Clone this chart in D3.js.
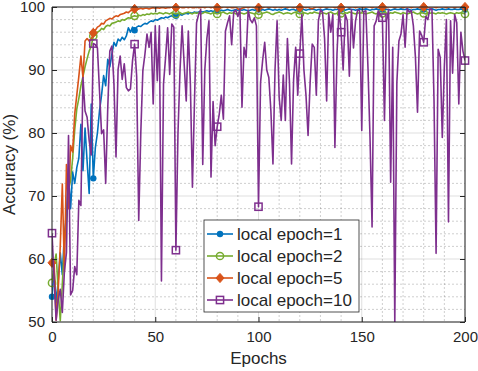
<!DOCTYPE html>
<html>
<head>
<meta charset="utf-8">
<script src="https://cdn.jsdelivr.net/npm/d3@7"></script>
<style>
  body { margin: 0; background: #fff; }
  svg { display: block; font-family: "Liberation Sans", Arial, sans-serif; }
</style>
</head>
<body>
<div id="chart"></div>
<script>
// accuracy per epoch (epoch 0..200)
const acc1 = [
  54.0, 58.2, 53.0, 56.5, 61.0, 57.5, 64.0, 66.9, 73.5, 68.0,
  73.8, 72.0, 74.5, 76.0, 81.4, 74.0, 80.8, 75.5, 70.4, 84.6,
  72.8, 77.7, 80.0, 83.5, 86.0, 89.1, 87.5, 91.7, 90.5, 92.5,
  94.4, 93.8, 94.9, 94.6, 95.2, 94.8, 95.4, 96.7, 96.0, 96.8,
  96.3, 96.8, 97.0, 96.9, 97.2, 97.4, 97.3, 97.6, 97.8, 97.7,
  98.0, 97.9, 98.1, 98.3, 98.2, 98.4, 98.3, 98.5, 98.6, 98.4,
  98.6, 98.7, 98.8, 98.7, 98.9, 99.0, 98.9, 99.1, 99.0, 99.2,
  99.1, 99.2, 99.3, 99.2, 99.3, 99.4, 99.3, 99.4, 99.3, 99.4,
  99.5, 99.4, 99.5, 99.4, 99.5, 99.6, 99.5, 99.4, 99.5, 99.6,
  99.5, 99.6, 99.5, 99.6, 99.5, 99.4, 99.5, 99.6, 99.5, 99.6,
  99.6, 99.5, 99.6, 99.5, 99.6, 99.7, 99.6, 99.5, 99.6, 99.5,
  99.6, 99.5, 99.6, 99.7, 99.6, 99.5, 99.6, 99.6, 99.5, 99.6,
  99.6, 99.7, 99.6, 99.5, 99.6, 99.6, 99.7, 99.6, 99.5, 99.6,
  99.6, 99.5, 99.6, 99.7, 99.6, 99.6, 99.5, 99.6, 99.6, 99.7,
  99.6, 99.6, 99.5, 99.6, 99.7, 99.6, 99.6, 99.5, 99.6, 99.7,
  99.6, 99.6, 99.7, 99.6, 99.5, 99.6, 99.6, 99.7, 99.6, 99.6,
  99.6, 99.7, 99.6, 99.6, 99.5, 99.6, 99.7, 99.6, 99.6, 99.7,
  99.6, 99.6, 99.7, 99.6, 99.5, 99.6, 99.6, 99.7, 99.6, 99.6,
  99.6, 99.7, 99.6, 99.6, 99.7, 99.6, 99.5, 99.6, 99.6, 99.7,
  99.6, 99.6, 99.7, 99.6, 99.6, 99.7, 99.6, 99.6, 99.7, 99.6,
  99.6
];
const acc2 = [
  56.2, 59.0, 60.8, 55.0, 50.2, 56.0, 62.5, 66.0, 71.0, 72.5,
  76.0, 80.5, 83.8, 85.5, 87.5, 89.0, 90.5, 91.8, 93.0, 93.8,
  95.4, 95.5, 96.0, 96.2, 96.6, 96.4, 96.9, 97.1, 97.0, 97.4,
  97.5, 97.6, 97.8, 97.7, 98.0, 97.9, 98.1, 98.3, 98.2, 98.5,
  98.6, 98.5, 98.7, 98.6, 98.8, 98.7, 98.9, 98.8, 99.0, 98.9,
  99.0, 98.9, 99.1, 99.0, 98.9, 99.1, 99.0, 98.9, 99.1, 99.0,
  98.9, 99.0, 99.1, 98.9, 99.0, 99.1, 99.2, 99.0, 98.9, 99.1,
  99.0, 99.1, 98.9, 99.0, 99.2, 99.1, 99.0, 98.9, 99.1, 99.0,
  98.9, 99.0, 99.1, 99.2, 99.0, 98.9, 99.1, 99.0, 99.1, 98.9,
  99.0, 99.1, 99.0, 98.9, 99.0, 99.2, 99.1, 99.0, 98.9, 99.0,
  98.8, 98.9, 99.0, 99.1, 99.2, 99.1, 98.9, 98.8, 99.0, 99.1,
  99.2, 99.1, 98.9, 99.0, 99.1, 99.0, 98.9, 99.1, 99.2, 99.0,
  98.9, 99.0, 99.1, 99.0, 98.9, 99.1, 99.0, 99.2, 99.1, 99.0,
  98.9, 99.1, 99.0, 98.9, 99.1, 99.2, 99.0, 98.9, 99.0, 99.1,
  99.0, 98.9, 99.1, 99.0, 99.2, 99.1, 99.0, 98.9, 99.1, 99.0,
  99.1, 99.0, 98.9, 99.0, 99.1, 99.2, 99.0, 98.9, 99.1, 99.0,
  99.0, 99.1, 99.0, 98.9, 99.1, 99.0, 99.2, 99.1, 99.0, 98.9,
  99.1, 99.0, 98.9, 99.0, 99.1, 99.2, 99.0, 98.9, 99.0, 99.1,
  99.0, 98.9, 99.1, 99.0, 99.1, 99.0, 98.9, 99.1, 99.0, 99.1,
  99.0, 98.9, 99.0, 99.1, 99.0, 98.9, 99.1, 99.0, 99.1, 99.0,
  98.9
];
const acc5 = [
  59.4, 59.6, 50.3, 55.0, 62.0, 71.9, 58.0, 75.0, 68.0, 78.0,
  77.0, 83.0, 86.0, 89.0, 92.2, 88.8, 94.6, 95.0, 94.6, 94.8,
  95.9, 96.3, 96.8, 97.0, 97.4, 97.3, 97.8, 98.0, 98.2, 98.1,
  98.4, 98.6, 98.5, 98.8, 98.9, 99.0, 99.2, 99.1, 99.4, 99.5,
  99.7, 99.6, 99.7, 99.8, 99.7, 99.8, 99.8, 99.7, 99.8, 99.9,
  99.8, 99.9, 99.8, 99.9, 99.9, 99.8, 99.9, 99.9, 100.0, 99.9,
  99.9, 99.9, 100.0, 99.9, 99.9, 100.0, 99.9, 100.0, 99.9, 99.9,
  100.0, 99.9, 99.9, 100.0, 99.9, 100.0, 100.0, 99.9, 100.0, 99.9,
  99.9, 100.0, 99.9, 100.0, 100.0, 99.9, 100.0, 99.9, 99.9, 100.0,
  99.7, 99.6, 99.8, 99.9, 100.0, 99.9, 100.0, 100.0, 99.9, 100.0,
  99.9, 100.0, 99.9, 100.0, 100.0, 99.9, 100.0, 100.0, 99.9, 100.0,
  100.0, 99.9, 100.0, 100.0, 99.9, 100.0, 100.0, 99.9, 100.0, 100.0,
  99.9, 100.0, 100.0, 99.9, 100.0, 99.8, 99.7, 99.9, 100.0, 100.0,
  99.9, 100.0, 100.0, 99.9, 100.0, 100.0, 100.0, 99.9, 100.0, 100.0,
  99.9, 100.0, 100.0, 100.0, 99.9, 100.0, 100.0, 99.9, 100.0, 100.0,
  100.0, 99.9, 100.0, 100.0, 100.0, 99.9, 100.0, 100.0, 99.9, 100.0,
  100.0, 100.0, 99.9, 100.0, 100.0, 100.0, 99.9, 100.0, 100.0, 100.0,
  99.9, 100.0, 100.0, 100.0, 99.9, 100.0, 100.0, 100.0, 99.9, 100.0,
  100.0, 100.0, 99.9, 100.0, 100.0, 100.0, 99.9, 100.0, 100.0, 100.0,
  100.0, 99.9, 100.0, 100.0, 100.0, 99.9, 100.0, 100.0, 100.0, 100.0,
  100.0
];
const acc10 = [
  64.1, 57.0, 50.3, 53.5, 55.2, 51.5, 58.0, 61.0, 79.6, 54.3,
  55.0, 58.8, 57.5, 69.3, 68.5, 88.8, 83.5, 82.5, 78.8, 76.5,
  94.2, 94.0, 93.5, 86.7, 79.9, 80.5, 72.0, 84.0, 93.0, 93.8,
  87.8, 76.2, 90.1, 92.2, 88.5, 91.0, 87.2, 86.7, 87.0, 91.5,
  94.1, 89.0, 66.1, 80.0, 89.9, 92.5, 95.7, 93.6, 96.0, 84.6,
  97.0, 88.3, 97.0, 56.5, 87.8, 92.0, 96.7, 89.3, 97.3, 96.8,
  61.4, 79.9, 90.0, 97.0, 91.0, 85.1, 96.2, 88.0, 71.4, 85.0,
  97.5, 98.8, 99.6, 75.0, 90.0, 95.0, 97.8, 73.0, 85.0, 78.0,
  81.0, 83.0, 86.0, 82.2, 96.2, 97.5, 98.6, 94.0, 99.2, 99.5,
  98.5, 99.7, 84.1, 93.6, 92.0, 99.5, 98.0, 97.5, 98.3, 97.0,
  68.3, 88.0, 91.5, 94.4, 90.0, 88.8, 83.5, 75.1, 90.0, 97.8,
  85.7, 82.0, 89.2, 82.0, 95.0, 88.0, 75.1, 88.5, 93.6, 86.0,
  92.6, 98.8, 90.0, 86.0, 79.6, 88.0, 94.1, 93.6, 86.0, 97.8,
  99.5, 99.2, 95.0, 85.1, 99.0, 96.0, 98.8, 77.7, 92.5, 99.6,
  96.0, 90.0, 98.8, 97.8, 89.0, 99.6, 93.5, 97.8, 99.5, 99.4,
  80.4, 99.3, 99.4, 90.5, 79.3, 65.1, 97.0, 97.8, 99.4, 98.8,
  98.3, 82.0, 97.8, 99.6, 72.2, 93.6, 50.0, 88.0, 94.6, 95.7,
  98.8, 93.6, 99.7, 99.2, 99.4, 97.0, 92.0, 83.3, 96.2, 95.5,
  94.4, 98.5, 98.0, 99.7, 99.6, 85.1, 60.9, 93.3, 92.0, 79.3,
  90.5, 98.0, 65.9, 97.8, 89.5, 98.8, 97.5, 84.6, 96.0, 93.0,
  91.5
];

const seriesNames = ["local epoch=1", "local epoch=2", "local epoch=5", "local epoch=10"];
const xTicks = [0, 50, 100, 150, 200];
const yTicks = [50, 60, 70, 80, 90, 100];
const markerEvery = 20;

const colors = ["#0072BD", "#77AC30", "#D95319", "#7E2F8E"];
const markers = ["dot", "circle", "diamond", "square"];
const series = [acc1, acc2, acc5, acc10];

const margin = {top: 7, right: 13, bottom: 49, left: 52};
const width = 478 - margin.left - margin.right;
const height = 371 - margin.top - margin.bottom;
const axisColor = "#262626";

const svg = d3.select("#chart")
  .append("svg")
    .attr("width", 478)
    .attr("height", 371)
  .append("g")
    .attr("transform", `translate(${margin.left},${margin.top})`);

const x = d3.scaleLinear().domain([0, 200]).range([0, width]);
const y = d3.scaleLinear().domain([50, 100]).range([height, 0]);

// minor grid (dotted), then major grid
const xMinor = d3.range(0, 201, 10).filter(d => !xTicks.includes(d));
const yMinor = d3.range(50, 101, 2).filter(d => !yTicks.includes(d));

const grid = svg.append("g");
grid.selectAll(".xm").data(xMinor).join("line")
  .attr("x1", d => x(d)).attr("x2", d => x(d))
  .attr("y1", 0).attr("y2", height)
  .attr("stroke", axisColor).attr("stroke-opacity", 0.22)
  .attr("stroke-dasharray", "2,2");
grid.selectAll(".ym").data(yMinor).join("line")
  .attr("x1", 0).attr("x2", width)
  .attr("y1", d => y(d)).attr("y2", d => y(d))
  .attr("stroke", axisColor).attr("stroke-opacity", 0.22)
  .attr("stroke-dasharray", "2,2");
grid.selectAll(".xM").data(xTicks).join("line")
  .attr("x1", d => x(d)).attr("x2", d => x(d))
  .attr("y1", 0).attr("y2", height)
  .attr("stroke", axisColor).attr("stroke-opacity", 0.15);
grid.selectAll(".yM").data(yTicks).join("line")
  .attr("x1", 0).attr("x2", width)
  .attr("y1", d => y(d)).attr("y2", d => y(d))
  .attr("stroke", axisColor).attr("stroke-opacity", 0.15);

// clip for the lines
svg.append("clipPath").attr("id", "plotclip")
  .append("rect").attr("x", 0).attr("y", 0).attr("width", width).attr("height", height);

const line = d3.line()
  .x((d, i) => x(i))
  .y(d => y(d));

function drawMarker(g, kind, color) {
  if (kind === "dot") {
    g.append("circle").attr("r", 3.2).attr("fill", color);
  } else if (kind === "circle") {
    g.append("circle").attr("r", 3.6).attr("fill", "none")
      .attr("stroke", color).attr("stroke-width", 1.5);
  } else if (kind === "diamond") {
    g.append("path").attr("d", "M0,-4.6L4,0L0,4.6L-4,0Z")
      .attr("fill", color).attr("stroke", color).attr("stroke-width", 1);
  } else {
    g.append("rect").attr("x", -3.6).attr("y", -3.6).attr("width", 7.2).attr("height", 7.2)
      .attr("fill", "none").attr("stroke", color).attr("stroke-width", 1.5);
  }
}

series.forEach((vals, k) => {
  svg.append("path")
    .datum(vals)
    .attr("clip-path", "url(#plotclip)")
    .attr("fill", "none")
    .attr("stroke", colors[k])
    .attr("stroke-width", 1.6)
    .attr("stroke-linejoin", "round")
    .attr("d", line);

  const pts = vals.map((v, i) => ({i: i, v: v})).filter(d => d.i % markerEvery === 0);
  svg.append("g").selectAll("g")
    .data(pts)
    .join("g")
      .attr("transform", d => `translate(${x(d.i)},${y(d.v)})`)
      .each(function() { drawMarker(d3.select(this), markers[k], colors[k]); });
});

// axes with inward ticks, box on
const fmt = d3.format("d");
const gx = svg.append("g").attr("transform", `translate(0,${height})`)
  .call(d3.axisBottom(x).tickValues(xTicks).tickSize(-5).tickPadding(9).tickFormat(fmt));
const gy = svg.append("g")
  .call(d3.axisLeft(y).tickValues(yTicks).tickSize(-5).tickPadding(7).tickFormat(fmt));
const gt = svg.append("g")
  .call(d3.axisTop(x).tickValues(xTicks).tickSize(-5).tickFormat(""));
const gr = svg.append("g").attr("transform", `translate(${width},0)`)
  .call(d3.axisRight(y).tickValues(yTicks).tickSize(-5).tickFormat(""));

[gx, gy, gt, gr].forEach(g => {
  g.selectAll("path").attr("stroke", axisColor);
  g.selectAll("line").attr("stroke", axisColor);
  g.selectAll("text").attr("fill", axisColor).style("font-size", "15px");
});
gx.selectAll("path.domain").attr("d", `M0,0H${width}`);
gy.selectAll("path.domain").attr("d", `M0,${height}V0`);
gt.selectAll("path.domain").attr("d", `M0,0H${width}`);
gr.selectAll("path.domain").attr("d", `M0,${height}V0`);

// axis labels
svg.append("text")
  .attr("x", width / 2)
  .attr("y", height + 42)
  .attr("text-anchor", "middle")
  .attr("fill", axisColor)
  .style("font-size", "17px")
  .text("Epochs");

svg.append("text")
  .attr("transform", `translate(${15 - margin.left},${height / 2}) rotate(-90)`)
  .attr("text-anchor", "middle")
  .attr("fill", axisColor)
  .style("font-size", "17px")
  .text("Accuracy (%)");

// legend
const legend = svg.append("g").attr("transform", "translate(152,213)");
legend.append("rect")
  .attr("width", 155).attr("height", 92)
  .attr("fill", "#fff").attr("stroke", axisColor).attr("stroke-width", 0.8);

seriesNames.forEach((name, k) => {
  const row = legend.append("g").attr("transform", `translate(0,${14 + k * 22})`);
  row.append("line")
    .attr("x1", 3).attr("x2", 29)
    .attr("stroke", colors[k]).attr("stroke-width", 1.6);
  const m = row.append("g").attr("transform", "translate(16,0)");
  drawMarker(m, markers[k], colors[k]);
  row.append("text")
    .attr("x", 33).attr("y", 6)
    .attr("fill", axisColor)
    .style("font-size", "17px")
    .text(name);
});
</script>
</body>
</html>
